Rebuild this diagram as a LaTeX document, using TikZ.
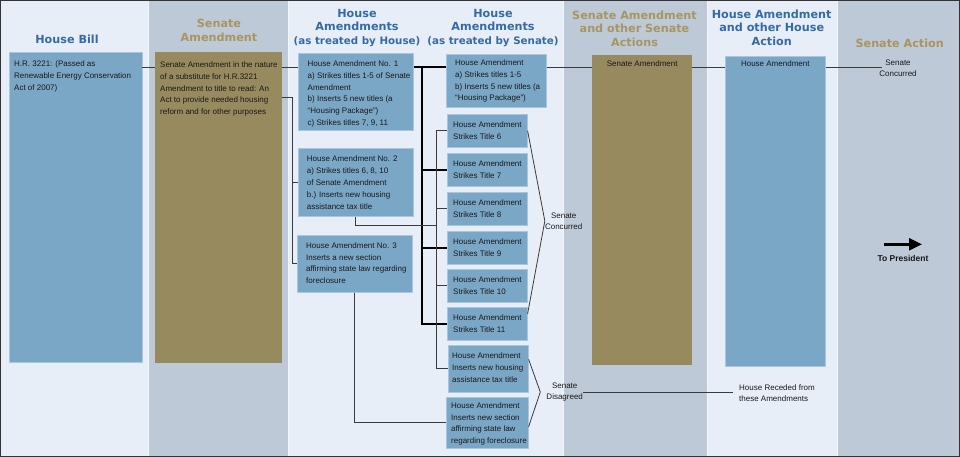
\documentclass[tikz,border=0pt]{standalone}
\usepackage{fontspec}
\setmainfont{Liberation Sans}
\newfontfamily\headfont{DejaVu Sans}
\usetikzlibrary{arrows.meta}

\definecolor{lightbg}{HTML}{E8EEF8}
\definecolor{graybg}{HTML}{BDC9D6}
\definecolor{colsep}{HTML}{F3F6FB}
\definecolor{boxblue}{HTML}{7BA7C7}
\definecolor{boxrim}{HTML}{A9C6DF}
\definecolor{olivebox}{HTML}{978A5E}
\definecolor{headblue}{HTML}{346AA5}
\definecolor{headgold}{HTML}{A8955F}
\definecolor{linegray}{HTML}{3A3A3A}

\tikzset{
  amendbox/.style={fill=boxblue, draw=boxrim, line width=0.6pt, anchor=north west, inner sep=0pt},
  senatebox/.style={fill=olivebox, anchor=north west, inner sep=0pt},
  boxtext/.style={anchor=north west, inner sep=0pt, align=left, text=black!90, font=\fontsize{8}{11.8}\selectfont},
  note/.style={inner sep=0pt, align=center, text=black!90, font=\fontsize{8}{11.4}\selectfont},
  bluehead/.style={text=headblue, align=center, inner sep=0pt, font=\headfont\bfseries\fontsize{11.2}{13.6}\selectfont},
  goldhead/.style={bluehead, text=headgold},
  link/.style={draw=linegray, line width=0.9pt},
  bus/.style={draw=black, line width=1.9pt},
}

\begin{document}
\begin{tikzpicture}[x=1pt, y=-1pt]
\useasboundingbox (0,0) rectangle (960,457);

% columns
\fill[lightbg] (0,0) rectangle (960,457);
\fill[graybg] (148,0) rectangle (288,457);
\fill[graybg] (563,0) rectangle (707,457);
\fill[graybg] (837,0) rectangle (960,457);
\foreach \x in {148,288,563,707,837}{
\draw[colsep, line width=0.8pt] (\x,0)--(\x,457);
}
\draw[black!80, line width=1.3pt] (0.65,0.65) rectangle (959.35,456.35);

% headers
\node[bluehead] (h-bill) at (67,39) {House Bill};
\node[goldhead] (h-senate) at (219,30.5) {Senate\\Amendment};
\node[bluehead] (h-byhouse) at (357,28) {House\\Amendments\\{\fontsize{10.3}{13.6}\selectfont(as treated by House)}};
\node[bluehead] (h-bysenate) at (493,28) {House\\Amendments\\{\fontsize{10.3}{13.6}\selectfont(as treated by Senate)}};
\node[goldhead] (h-senact) at (634.5,28.5) {Senate Amendment\\and other Senate\\Actions};
\node[bluehead] (h-houseact) at (771.7,27.5) {House Amendment\\and other House\\Action};
\node[goldhead] (h-final) at (899.7,43) {Senate Action};

% boxes
\node[amendbox, minimum width=133pt, minimum height=310pt] (hb) at (8.5,52) {};
\node[boxtext] (hb-txt) at ([shift={(5.5pt,-9pt)}]hb.north west) {H.R. 3221: (Passed as\\Renewable Energy Conservation\\Act of 2007)};

\node[senatebox, minimum width=127pt, minimum height=311pt] (sa) at (155,52) {};
\node[boxtext] (sa-txt) at ([shift={(5pt,-9.5pt)}]sa.north west) {Senate Amendment in the nature\\of a substitute for H.R.3221\\Amendment to title to read: An\\Act to provide needed housing\\reform and for other purposes};

\node[amendbox, minimum width=115pt, minimum height=77pt] (ha1) at (298,53) {};
\node[boxtext] (ha1-txt) at ([shift={(9.5pt,-7.5pt)}]ha1.north west) {House Amendment No. 1\\a) Strikes titles 1-5 of Senate\\Amendment\\b) Inserts 5 new titles (a\\“Housing Package”)\\c) Strikes titles 7, 9, 11};

\node[amendbox, minimum width=115pt, minimum height=68pt] (ha2) at (298,148) {};
\node[boxtext] (ha2-txt) at ([shift={(8.7pt,-8pt)}]ha2.north west) {House Amendment No. 2\\a) Strikes titles 6, 8, 10\\of Senate Amendment\\b.) Inserts new housing\\assistance tax title};

\node[amendbox, minimum width=115pt, minimum height=57pt] (ha3) at (297,235) {};
\node[boxtext] (ha3-txt) at ([shift={(9pt,-7.3pt)}]ha3.north west) {House Amendment No. 3\\Inserts a new section\\affirming state law regarding\\foreclosure};

\node[amendbox, minimum width=100pt, minimum height=53pt] (s1) at (446,54) {};
\node[boxtext] (s1-txt) at ([shift={(9pt,-5.5pt)}]s1.north west) {House Amendment\\a) Strikes titles 1-5\\b) Inserts 5 new titles (a\\“Housing Package”)};

\foreach \n/\y in {6/114,7/153,8/192,9/231,10/269,11/307}{
\node[amendbox, minimum width=80pt, minimum height=33pt] (t\n) at (447,\y) {};
\node[boxtext] (t\n-txt) at ([shift={(6pt,-8pt)}]t\n.north west) {House Amendment\\Strikes Title \n};
}

\node[amendbox, minimum width=80pt, minimum height=47pt] (tax) at (448,345) {};
\node[boxtext] (tax-txt) at ([shift={(4pt,-7.7pt)}]tax.north west) {House Amendment\\Inserts new housing\\assistance tax title};

\node[amendbox, minimum width=82pt, minimum height=51pt] (fc) at (446,397) {};
\node[boxtext] (fc-txt) at ([shift={(5pt,-5.3pt)}]fc.north west) {House Amendment\\Inserts new section\\affirming state law\\regarding foreclosure};

\node[senatebox, minimum width=100pt, minimum height=310pt] (sa2) at (592,55) {};
\node[boxtext, anchor=north] (sa2-txt) at ([yshift=-5.7pt]sa2.north) {Senate Amendment};

\node[amendbox, minimum width=100pt, minimum height=310pt] (ha4) at (725,56) {};
\node[boxtext, anchor=north] (ha4-txt) at ([yshift=-4.7pt]ha4.north) {House Amendment};

% labels
\node[note] (concur-top) at (898,68.5) {Senate\\Concurred};
\node[note] (concur) at (563.7,221) {Senate\\Concurred};
\node[note] (disag) at (564.7,392) {Senate\\Disagreed};
\node[note, align=left, anchor=west] (recede) at (739,393) {House Receded from\\these Amendments};
\node[inner sep=0pt, text=black!90, font=\bfseries\fontsize{8.5}{10}\selectfont] (pres) at (903,258) {To President};

% main line
\coordinate (mainline) at (0,67);
\draw[link] (hb.east |- mainline) -- (sa.west |- mainline);
\draw[link] (sa.east |- mainline) -- (ha1.west |- mainline);
\draw[bus] (ha1.east |- mainline) -- (s1.west |- mainline);
\draw[link] (s1.east |- mainline) -- (sa2.west |- mainline);
\draw[link] (sa2.east |- mainline) -- (ha4.west |- mainline);
\draw[link] (ha4.east |- mainline) -- ([xshift=3pt]concur-top.west |- mainline);

% senate amendment to house amendments
\draw[link] ([yshift=-45pt]sa.north east) -| ([xshift=-5pt]ha3.west) -- (ha3.west);
\draw[link] (ha2.west) -- ++(-6pt,0);

% thick bus
\coordinate (trunk) at (422,67);
\draw[bus] (trunk) |- (t11.west);
\foreach \n in {7,9}{
\draw[bus] (t\n.west -| trunk) -- (t\n.west);
}

% thin bus
\coordinate (thinbus) at (436,0);
\draw[link] (t6.west) -| (thinbus |- tax.west) -- (tax.west);
\foreach \n in {8,10}{
\draw[link] (t\n.west -| thinbus) -- (t\n.west);
}
\draw[link] (ha2.south) |- (thinbus |- t8.south);
\draw[link] (ha3.south) |- (fc.west);

% brackets
\draw[link, line width=0.8pt] (t6.east) -- (concur.west) -- ([yshift=10pt]t11.east);
\draw[link, line width=0.8pt] ([yshift=9.5pt]tax.east) -- ([xshift=-6pt]disag.west) -- ([yshift=-4pt]fc.east);
\draw[link] (disag.east) -- ([xshift=-6pt]recede.west |- disag.east);

% to president
\coordinate (arrow-tail) at (884,244.3);
\coordinate (arrow-head) at (922,244.3);
\draw[line width=2.4pt, -{Triangle[length=13pt, width=12pt]}] (arrow-tail) -- (arrow-head);
\end{tikzpicture}
\end{document}
